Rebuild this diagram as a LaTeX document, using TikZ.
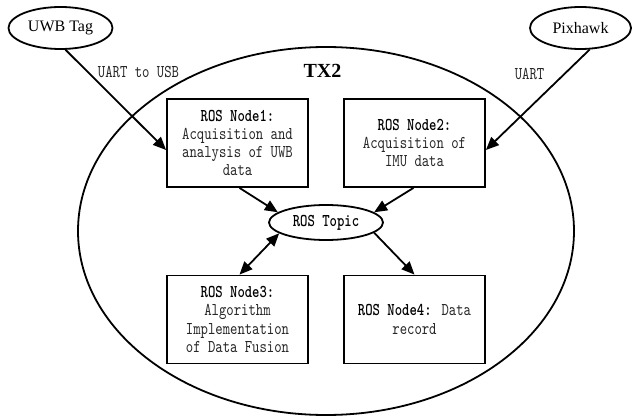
\documentclass[tikz,border=0pt]{standalone}
\usepackage{fontspec}
\setmainfont{Liberation Serif}
\newfontfamily\mono{lmmono10-regular}[Extension=.otf, BoldFont=lmmonolt10-bold, FakeStretch=0.78]
\usetikzlibrary{shapes.geometric, arrows.meta}
\begin{document}
\begin{tikzpicture}[x=1pt,y=-1pt, line width=1.8pt,
  monofont/.style={font=\mono\fontsize{18}{18.3}\selectfont},
  box/.style={draw, rectangle, minimum width=141pt, minimum height=88pt, align=center, monofont, text=black!85, inner sep=0pt},
  oval/.style={draw, ellipse, inner sep=0pt},
  arr/.style={-{Triangle[length=13pt,width=11pt]}},
  darr/.style={{Triangle[length=13pt,width=11pt]}-{Triangle[length=13pt,width=11pt]}},
  lbl/.style={monofont, text=black!85}]
\useasboundingbox (0,0) rectangle (632,417);

\node[oval, minimum width=496pt, minimum height=368pt] (tx2) at (326,231) {};
\node[font=\bfseries\fontsize{20}{20}\selectfont] (tx2lbl) at (322.5,71) {TX2};

\node[oval, minimum width=104pt, minimum height=42pt, font=\fontsize{16}{16}\selectfont] (uwb) at (60.5,28) {UWB Tag};
\node[oval, minimum width=101pt, minimum height=42pt, font=\fontsize{16}{16}\selectfont] (pix) at (580.5,28) {Pixhawk};

\node[box] (n1) at (237.5,143) {\textcolor{black}{\textbf{ROS Node1:}}\\Acquisition and\\analysis of UWB\\data};
\node[box] (n2) at (414.5,143) {\textcolor{black}{\textbf{ROS Node2:}}\\Acquisition of\\IMU data};
\node[box] (n3) at (237.5,319.5) {\textcolor{black}{\textbf{ROS Node3:}}\\Algorithm\\Implementation\\of Data Fusion};
\node[box] (n4) at (414.5,319.5) {\textcolor{black}{\textbf{ROS Node4:}} Data\\record};

\node[oval, minimum width=114pt, minimum height=35pt, monofont] (topic) at (326,222.5) {\textbf{ROS Topic}};

\node[lbl] (l1) at (138.5,72) {UART to USB};
\node[lbl] (l2) at (529.5,74) {UART};

\draw[arr] (uwb.-77) -- ([yshift=-7pt]n1.west);
\draw[arr] (pix.-67) -- ([yshift=-7pt]n2.east);
\draw[arr] ([xshift=2pt]n1.south) -- (topic.168);
\draw[arr] ([xshift=-1pt]n2.south) -- (topic.12);
\draw[darr] (topic.193) -- ([xshift=2pt]n3.north);
\draw[arr] (topic.-12) -- (n4.north);
\end{tikzpicture}
\end{document}
